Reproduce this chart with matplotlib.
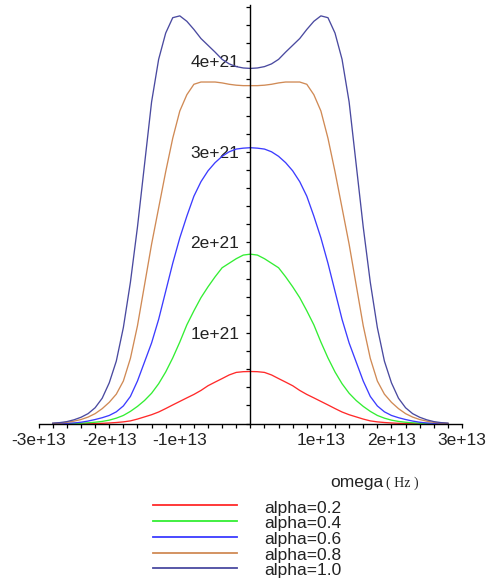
import numpy as np
import matplotlib
matplotlib.use("Agg")
import matplotlib.pyplot as plt
from matplotlib.lines import Line2D
from matplotlib.ticker import MultipleLocator, FixedLocator, FuncFormatter

plt.rcParams['font.family'] = ['Liberation Sans', 'DejaVu Sans']

# angular frequency samples (Hz), -2.8e13 .. 2.8e13
omega = np.round(np.arange(-28, 29) * 0.1, 1) * 1e13

# spectra in units of 1e21
spec_02 = [0.0, 0.0, 0.0, 0.0, 0.0, 0.0, 0.001, 0.003, 0.007, 0.012, 0.019, 0.03, 0.05, 0.074,
           0.098, 0.128, 0.166, 0.206, 0.245, 0.284, 0.322, 0.366, 0.418, 0.458, 0.497, 0.537,
           0.565, 0.573,
           0.575,
           0.573, 0.565, 0.537, 0.497, 0.458, 0.418, 0.366, 0.322, 0.284, 0.245, 0.206, 0.166,
           0.128, 0.098, 0.074, 0.05, 0.03, 0.019, 0.012, 0.007, 0.003, 0.001, 0.0, 0.0, 0.0,
           0.0, 0.0, 0.0]
spec_04 = [0.0, 0.0, 0.0, 0.001, 0.004, 0.009, 0.015, 0.024, 0.038, 0.06, 0.09, 0.135, 0.19,
           0.255, 0.335, 0.44, 0.57, 0.725, 0.90, 1.09, 1.245, 1.39, 1.51, 1.62, 1.72, 1.77, 1.82,
           1.86,
           1.87,
           1.86, 1.82, 1.77, 1.72, 1.62, 1.51, 1.39, 1.245, 1.09, 0.90, 0.725, 0.57, 0.44, 0.335,
           0.255, 0.19, 0.135, 0.09, 0.06, 0.038, 0.024, 0.015, 0.009, 0.004, 0.001, 0.0, 0.0,
           0.0]
spec_06 = [0.0, 0.001, 0.003, 0.007, 0.015, 0.028, 0.045, 0.065, 0.09, 0.13, 0.195, 0.30, 0.47,
           0.68, 0.89, 1.15, 1.46, 1.77, 2.05, 2.29, 2.51, 2.67, 2.79, 2.88, 2.95, 3.00, 3.03,
           3.04,
           3.045,
           3.04, 3.03, 3.00, 2.95, 2.88, 2.79, 2.67, 2.51, 2.29, 2.05, 1.77, 1.46, 1.15, 0.89,
           0.68, 0.47, 0.30, 0.195, 0.13, 0.09, 0.065, 0.045, 0.028, 0.015, 0.007, 0.003, 0.001,
           0.0]
spec_08 = [0.002, 0.006, 0.014, 0.027, 0.045, 0.072, 0.11, 0.165, 0.235, 0.325, 0.47, 0.72, 1.08,
           1.53, 1.98, 2.38, 2.78, 3.15, 3.45, 3.63, 3.745, 3.77, 3.77, 3.77, 3.76, 3.745, 3.735,
           3.73,
           3.73,
           3.73, 3.735, 3.745, 3.76, 3.77, 3.77, 3.77, 3.745, 3.63, 3.45, 3.15, 2.78, 2.38, 1.98,
           1.53, 1.08, 0.72, 0.47, 0.325, 0.235, 0.165, 0.11, 0.072, 0.045, 0.027, 0.014, 0.006,
           0.002]
spec_10 = [0.005, 0.011, 0.022, 0.042, 0.07, 0.11, 0.175, 0.28, 0.45, 0.69, 1.06, 1.56, 2.17,
           2.86, 3.55, 4.02, 4.31, 4.48, 4.50, 4.44, 4.35, 4.25, 4.175, 4.10, 4.02, 3.97, 3.94,
           3.925,
           3.92,
           3.925, 3.94, 3.97, 4.02, 4.10, 4.175, 4.25, 4.35, 4.44, 4.50, 4.48, 4.31, 4.02, 3.55,
           2.86, 2.17, 1.56, 1.06, 0.69, 0.45, 0.28, 0.175, 0.11, 0.07, 0.042, 0.022, 0.011,
           0.005]
UNIT = 1e21

labels = ["alpha=0.2", "alpha=0.4", "alpha=0.6", "alpha=0.8", "alpha=1.0"]
series = [spec_02, spec_04, spec_06, spec_08, spec_10]
colors = ["#ff2a2a", "#33ee33", "#3c3cff", "#d08a55", "#4a4aa0"]

x_ticks = [-3e13, -2e13, -1e13, 1e13, 2e13, 3e13]
y_ticks = [1e21, 2e21, 3e21, 4e21]

W, H = 486, 583
fig = plt.figure(figsize=(W / 100, H / 100), dpi=100)

# axes box in pixel units (origin top-left)
left_px, right_px = 38.7, 462.0
zero_px, top_px = 423.6, 5.0
ax = fig.add_axes([left_px / W, 1 - zero_px / H,
                   (right_px - left_px) / W, (zero_px - top_px) / H])

for vals, col, lab in zip(series, colors, labels):
    ax.plot(omega, np.asarray(vals) * UNIT, color=col, lw=0.95, label=lab)

ax.set_xlim(-3e13, 3e13)
ax.set_ylim(0, 4.62e21)

for side in ("top", "right"):
    ax.spines[side].set_visible(False)
ax.spines["left"].set_position(("data", 0))
ax.spines["bottom"].set_position(("data", 0))
for side in ("left", "bottom"):
    ax.spines[side].set_linewidth(1.0)
    ax.spines[side].set_color("black")

ax.xaxis.set_major_locator(FixedLocator(x_ticks))
ax.xaxis.set_minor_locator(MultipleLocator(0.2e13))
ax.yaxis.set_major_locator(FixedLocator(y_ticks))
ax.yaxis.set_minor_locator(MultipleLocator(0.2e21))
sci = FuncFormatter(lambda v, p: f"{v:.0e}")
ax.xaxis.set_major_formatter(sci)
ax.yaxis.set_major_formatter(sci)

ax.tick_params(which="both", direction="out", length=3, width=0.9, color="black",
               labelsize=12.5, labelcolor="#222222")
ax.tick_params(axis="x", which="major", pad=4)
ax.tick_params(axis="y", which="major", pad=5)
ax.patch.set_alpha(0)


def fx(px):
    return px / W


def fy(py):
    return 1 - py / H


# axis title
fig.text(fx(330), fy(486.7), "omega", fontsize=12.5, color="#222222", va="baseline")
fig.text(fx(386), fy(486.7), "( Hz )", fontsize=10, color="#222222", va="baseline",
         family=["Liberation Serif", "DejaVu Serif"])

# legend
row_y = [505.0, 520.9, 536.8, 552.6, 568.0]
for yy, col, lab in zip(row_y, colors, labels):
    fig.add_artist(Line2D([fx(152.7), fx(237.3)], [fy(yy), fy(yy)], color=col, lw=1.3,
                          transform=fig.transFigure))
    fig.text(fx(264), fy(yy + 7.5), lab, fontsize=12.5, color="#222222", va="baseline")

fig.savefig("out.png", dpi=100, facecolor="white")
